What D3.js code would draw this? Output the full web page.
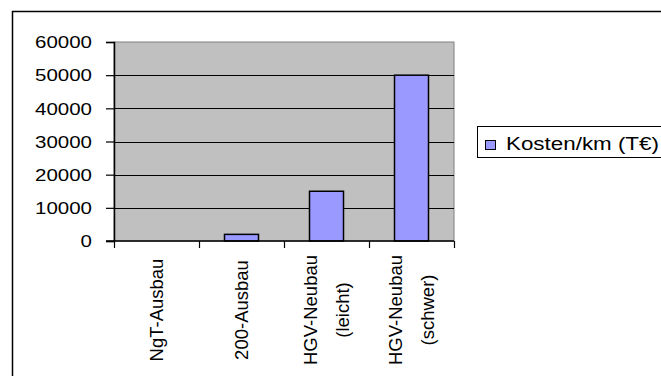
<!DOCTYPE html>
<html>
<head>
<meta charset="utf-8">
<script src="https://cdn.jsdelivr.net/npm/d3@7"></script>
<style>
  html, body { margin: 0; padding: 0; background: #fff; }
  svg { display: block; }
  text { font-family: "Liberation Sans", Arial, sans-serif; fill: #000; }
</style>
</head>
<body>
<svg id="chart" width="661" height="376"></svg>
<script>
const categories = [["NgT-Ausbau"], ["200-Ausbau"], ["HGV-Neubau", "(leicht)"], ["HGV-Neubau", "(schwer)"]];
const values = [0, 2000, 15000, 50000];
const yTicks = [0, 10000, 20000, 30000, 40000, 50000, 60000];
const seriesName = "Kosten/km (T€)";

const W = 661, H = 376;
const plot = { left: 114, right: 454, top: 42, bottom: 241 };
const sx = 1.28; // horizontal stretch of the original picture's text

const svg = d3.select("#chart");
svg.append("rect").attr("width", W).attr("height", H).attr("fill", "#fff");

// outer chart border (cropped at right and bottom)
svg.append("rect").attr("x", 12.5).attr("y", 11.5).attr("width", 800).attr("height", 500)
  .attr("fill", "none").attr("stroke", "#000").attr("stroke-width", 1.5);

const keys = categories.map(c => c.join(" "));
const x = d3.scaleBand().domain(keys).range([plot.left, plot.right]).paddingInner(0).paddingOuter(0);
const y = d3.scaleLinear().domain([0, 60000]).range([plot.bottom, plot.top]);

// plot area
svg.append("rect").attr("x", plot.left).attr("y", plot.top)
  .attr("width", plot.right - plot.left).attr("height", plot.bottom - plot.top)
  .attr("fill", "#c0c0c0").attr("stroke", "#808080").attr("stroke-width", 1);

// gridlines
svg.append("g").selectAll("line").data(yTicks.filter(t => t > 0 && t < 60000)).join("line")
  .attr("x1", plot.left).attr("x2", plot.right)
  .attr("y1", d => Math.round(y(d)) + 0.5).attr("y2", d => Math.round(y(d)) + 0.5)
  .attr("stroke", "#000").attr("stroke-width", 1);

// bars
const bw = x.bandwidth() * 0.4;
svg.append("g").selectAll("rect").data(values.map((v, i) => ({ k: keys[i], v })).filter(d => d.v > 0)).join("rect")
  .attr("x", d => x(d.k) + (x.bandwidth() - bw) / 2)
  .attr("width", bw)
  .attr("y", d => y(d.v))
  .attr("height", d => y(0) - y(d.v))
  .attr("fill", "#9999ff").attr("stroke", "#000").attr("stroke-width", 1.5);

// y axis
const yAxis = svg.append("g").attr("transform", `translate(${plot.left},0)`)
  .call(d3.axisLeft(y).tickValues(yTicks).tickSize(8).tickPadding(14).tickFormat(d3.format("d")));
yAxis.select(".domain").attr("stroke", "#000").attr("stroke-width", 1.5);
yAxis.selectAll(".tick line").attr("stroke", "#000").attr("stroke-width", 1.2);
yAxis.selectAll(".tick text")
  .attr("font-size", 16)
  .attr("font-family", "'Liberation Sans', Arial, sans-serif")
  .attr("x", -22 / sx)
  .attr("transform", `scale(${sx},1)`)
  .attr("dy", "0.36em");

// x axis
const xAxis = svg.append("g");
xAxis.append("line").attr("x1", plot.left - 8).attr("x2", plot.right)
  .attr("y1", plot.bottom).attr("y2", plot.bottom).attr("stroke", "#000").attr("stroke-width", 1.5);
const bounds = keys.map(k => x(k)).concat([x.range()[1]]);
xAxis.selectAll("line.tk").data(bounds).join("line").attr("class", "tk")
  .attr("x1", d => Math.round(d) + 0.5).attr("x2", d => Math.round(d) + 0.5)
  .attr("y1", plot.bottom).attr("y2", plot.bottom + 7)
  .attr("stroke", "#000").attr("stroke-width", 1.2);

// category labels (rotated)
const lineH = 32;
const labG = svg.append("g").selectAll("g").data(categories).join("g")
  .attr("transform", (d, i) => `translate(${x(keys[i]) + x.bandwidth() / 2},310) rotate(-90)`);
labG.append("text").attr("text-anchor", "middle").attr("font-size", 18.5)
  .selectAll("tspan").data(d => d.map((s, j) => ({ s, j, n: d.length }))).join("tspan")
  .attr("x", 0)
  .attr("y", d => (d.j - (d.n - 1) / 2) * lineH)
  .attr("dy", "0.36em")
  .text(d => d.s);

// legend
const lg = svg.append("g");
lg.append("rect").attr("x", 477.5).attr("y", 126.5).attr("width", 300).attr("height", 31)
  .attr("fill", "#fff").attr("stroke", "#000").attr("stroke-width", 1);
lg.append("rect").attr("x", 485.5).attr("y", 140.5).attr("width", 10).attr("height", 9)
  .attr("fill", "#9999ff").attr("stroke", "#000").attr("stroke-width", 1);
lg.append("text").attr("transform", `translate(506,150) scale(${sx},1)`)
  .attr("font-size", 17.5).text(seriesName);
</script>
</body>
</html>
